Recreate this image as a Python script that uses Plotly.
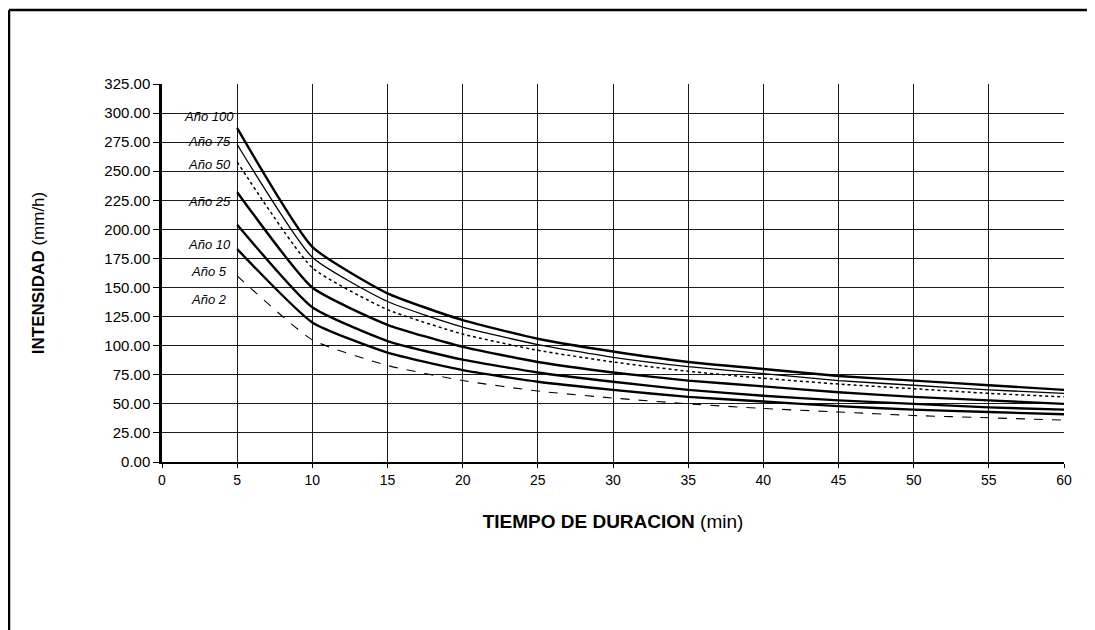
import plotly.graph_objects as go

# Duration (min)
duracion = [5, 10, 15, 20, 25, 30, 35, 40, 45, 50, 55, 60]

# Intensity (mm/h) per return period
ano_100 = [287, 185, 145, 122, 106, 95, 86, 80, 74, 70, 66, 62]
ano_75 = [273, 176, 138, 116, 101, 90, 82, 76, 70, 66, 62, 59]
ano_50 = [258, 167, 131, 110, 96, 86, 78, 72, 67, 63, 59, 56]
ano_25 = [232, 150, 118, 99, 86, 77, 70, 65, 60, 56, 53, 50]
ano_10 = [204, 133, 104, 88, 77, 69, 62, 57, 53, 50, 47, 45]
ano_5 = [183, 120, 94, 79, 69, 62, 56, 52, 48, 45, 43, 41]
ano_2 = [160, 105, 83, 70, 61, 55, 50, 46, 43, 40, 38, 36]

series_names = ["Año 100", "Año 75", "Año 50", "Año 25", "Año 10", "Año 5", "Año 2"]
series_values = [ano_100, ano_75, ano_50, ano_25, ano_10, ano_5, ano_2]

y_ticks = [0, 25, 50, 75, 100, 125, 150, 175, 200, 225, 250, 275, 300, 325]
x_ticks = [0, 5, 10, 15, 20, 25, 30, 35, 40, 45, 50, 55, 60]

# styles (not data)
widths = [2.4, 1.3, 1.5, 2.4, 2.4, 2.4, 1.1]
dashes = ["solid", "solid", "dot", "solid", "solid", "solid", "dash"]
label_shift = [12, 3, -3, -9, -20, -22, -24]
label_xshift = [-1, -4, -4, -4, -4, -8, -8]

fig = go.Figure()
for name, vals, w, d in zip(series_names, series_values, widths, dashes):
    fig.add_trace(go.Scatter(
        x=duracion, y=vals, mode="lines", name=name,
        line=dict(color="black", width=w, dash=d, shape="spline", smoothing=0.5),
        showlegend=False,
    ))

for name, vals, s, xs in zip(series_names, series_values, label_shift, label_xshift):
    fig.add_annotation(
        x=duracion[0], y=vals[0], xref="x", yref="y",
        text="<i>" + name + "</i>", showarrow=False,
        xanchor="right", yanchor="middle", xshift=xs, yshift=s,
        font=dict(family="Liberation Sans", size=13, color="black"),
    )

FONT = "Liberation Sans"
W, H = 1087, 622
L, R, T, B = 154, 31, 76, 168
pw, ph = W - L - R, H - T - B

fig.update_layout(
    width=W, height=H, autosize=False,
    margin=dict(l=L, r=R, t=T, b=B),
    paper_bgcolor="white", plot_bgcolor="white",
    font=dict(family=FONT, size=14, color="black"),
    xaxis=dict(
        range=[0, 60], tickvals=x_ticks, ticktext=[str(v) for v in x_ticks],
        showgrid=True, gridcolor="#1a1a1a", gridwidth=1,
        zeroline=False, showline=True, linecolor="black", linewidth=2,
        ticks="outside", ticklen=4, tickcolor="black",
        tickfont=dict(family=FONT, size=14, color="black"),
        title=dict(text="<b>TIEMPO DE DURACION</b> (min)",
                   font=dict(family=FONT, size=19, color="black"), standoff=28),
    ),
    yaxis=dict(
        range=[0, 325], tickvals=y_ticks, ticktext=["%.2f" % v for v in y_ticks],
        showgrid=True, gridcolor="#1a1a1a", gridwidth=1,
        zeroline=False, showline=True, linecolor="black", linewidth=2.5,
        ticks="outside", ticklen=6, tickcolor="black",
        tickfont=dict(family=FONT, size=15, color="black"),
        title=dict(text="<b>INTENSIDAD</b> (mm/h)",
                   font=dict(family=FONT, size=17, color="black"), standoff=56),
    ),
)

# outer frame of the scanned figure (top and left edges only)
fig.add_shape(type="line", xref="paper", yref="paper",
              x0=(1 - L) / pw, x1=(W - L) / pw, y0=1 + (T - 2) / ph, y1=1 + (T - 2) / ph,
              line=dict(color="black", width=2.5), layer="below")
fig.add_shape(type="line", xref="paper", yref="paper",
              x0=(1 - L) / pw, x1=(1 - L) / pw, y0=-B / ph, y1=1 + (T - 2) / ph,
              line=dict(color="black", width=2.5), layer="below")

fig.write_html("out.html")
